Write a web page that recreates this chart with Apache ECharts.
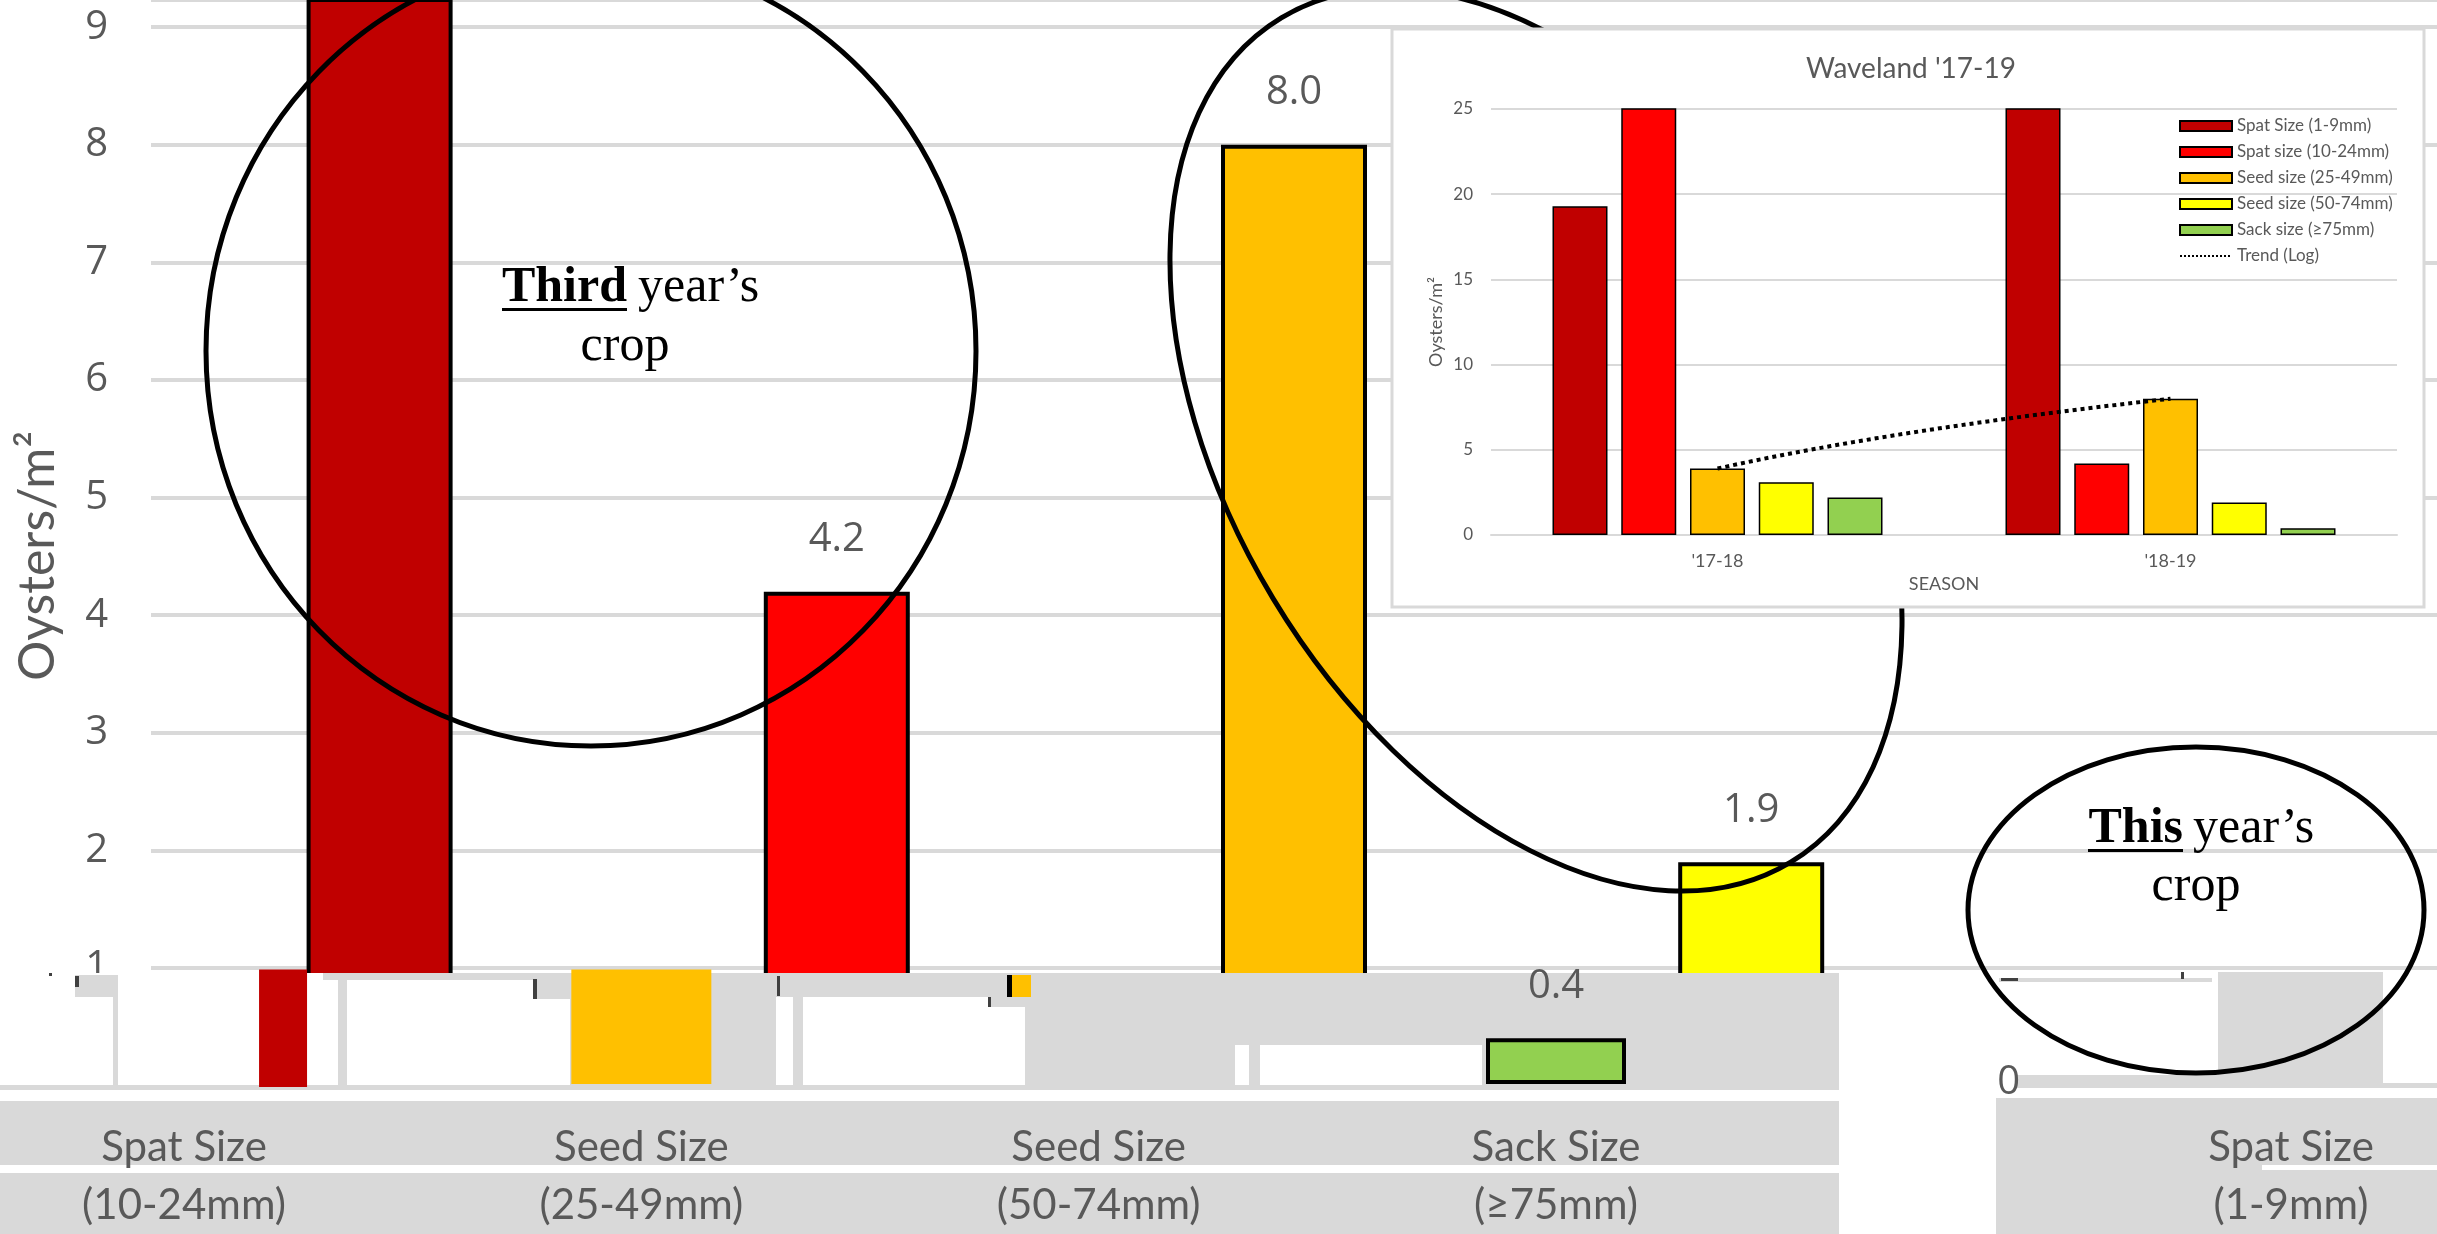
<!DOCTYPE html>
<html>
<head>
<meta charset="utf-8">
<script src="https://cdn.jsdelivr.net/npm/echarts@6/dist/echarts.min.js"></script>
<style>
html,body{margin:0;padding:0;background:#fff;}
#chart{width:2437px;height:1234px;}
</style>
</head>
<body>
<div id="chart"></div>
<script>
// ---------------- data ----------------
const seasons = ["'17-18", "'18-19"];
const sizeNames = ['Spat Size (1-9mm)', 'Spat size (10-24mm)', 'Seed size (25-49mm)', 'Seed size (50-74mm)', 'Sack size (\u226575mm)'];
const mainCats = ['Spat Size\n(1-9mm)', 'Spat Size\n(10-24mm)', 'Seed Size\n(25-49mm)', 'Seed Size\n(50-74mm)', 'Sack Size\n(\u226575mm)'];
const values1718 = [19.3, 30, 3.9, 3.1, 2.2];
const values1819 = [28, 4.2, 8.0, 1.9, 0.4];
const fragCats = ['Spat Size\n(10-24mm)', 'Seed Size\n(25-49mm)', 'Seed Size\n(50-74mm)', 'Sack Size\n(\u226575mm)'];
const fragValues = [null, 8.0, null, 0.4];
const fragPieceValues = [28, null, null, null];
const rightCats = ['Spat Size\n(1-9mm)'];
const trendSeriesIndex = 2; // Seed size (25-49mm) trend (log)

// ---------------- styles ----------------
const sizeColors = ['#C00000', '#FF0000', '#FFC000', '#FFFF00', '#92D050'];
const GRAY_TXT = '#595959';
const GRID_GRAY = '#d9d9d9';

// log trendline of the Seed size (25-49mm) series across the two seasons
const trendY = [values1718[trendSeriesIndex], values1819[trendSeriesIndex]];
const lnA = (trendY[1] - trendY[0]) / Math.log(2);
const trendData = [];
for (let k = 0; k <= 20; k++) {
  const x = 1 + k / 20;
  trendData.push([x, trendY[0] + lnA * Math.log(x)]);
}

const chart = echarts.init(document.getElementById('chart'), null, {renderer: 'canvas'});

function rect(x, y, w, h, fill, z) {
  return {type: 'rect', shape: {x: x, y: y, width: w, height: h}, style: {fill: fill}, z: z || 5, silent: true};
}
const STRIP = '#d9d9d9';
const DARK = '#404040';
const graphics = [
  // collage strip base
  rect(0, 973, 2437, 261, '#ffffff'),
  // left fragment
  rect(338, 973, 1501, 117, STRIP),
  rect(323, 973, 15, 7, STRIP),
  rect(347, 980, 223, 107, '#ffffff'),
  rect(535, 979, 35, 20, STRIP),
  rect(533, 979, 4, 20, DARK),
  rect(776, 997, 17, 90, '#ffffff'),
  rect(803, 997, 185, 90, '#ffffff'),
  rect(988, 1007, 37, 80, '#ffffff'),
  rect(777, 976, 3, 20, DARK),
  rect(988, 997, 3, 10, DARK),
  rect(1007, 975, 24, 22, '#FFC000'),
  rect(1007, 975, 5, 22, '#000000'),
  rect(1235, 1045, 14, 42, '#ffffff'),
  rect(1260, 1045, 222, 42, '#ffffff'),
  rect(0, 1085, 1839, 5, STRIP),
  rect(75, 975, 43, 22, STRIP),
  rect(113, 997, 5, 90, STRIP),
  rect(75, 976, 4, 11, DARK),
  rect(49, 973, 3, 3, DARK),
  rect(0, 1101, 1839, 64, STRIP),
  rect(0, 1173, 1839, 61, STRIP),
  // right fragment
  rect(2218, 972, 165, 116, STRIP),
  rect(1999, 978, 213, 4, STRIP),
  rect(2001, 978, 17, 3, DARK),
  rect(2181, 972, 3, 7, DARK),
  rect(2016, 1075, 367, 13, STRIP),
  rect(2383, 1083, 54, 5, STRIP),
  rect(1996, 1098, 441, 136, STRIP),
  rect(2262, 1165, 175, 5, '#ffffff'),
  // ellipse: third year's crop
  {type: 'ellipse', shape: {cx: 591, cy: 351, rx: 385, ry: 395}, style: {fill: 'none', stroke: '#000', lineWidth: 5}, z: 8, silent: true},
  {type: 'text', style: {text: 'Third', x: 627, y: 288, fill: '#000', font: 'bold 50px "Liberation Serif"', align: 'right', verticalAlign: 'middle', textAlign: 'right', textVerticalAlign: 'middle'}, z: 8},
  {type: 'text', style: {text: 'year\u2019s', x: 638, y: 288, fill: '#000', font: '50px "Liberation Serif"', align: 'left', verticalAlign: 'middle', textAlign: 'left', textVerticalAlign: 'middle'}, z: 8},
  {type: 'text', style: {text: 'crop', x: 625, y: 347, fill: '#000', font: '50px "Liberation Serif"', align: 'center', verticalAlign: 'middle', textAlign: 'center', textVerticalAlign: 'middle'}, z: 8},
  rect(502, 308, 125, 3, '#000000', 8),
  // big tilted ellipse
  {type: 'ellipse', x: 1536, y: 440, rotation: 0.543, shape: {cx: 0, cy: 0, rx: 307, ry: 493}, style: {fill: 'none', stroke: '#000', lineWidth: 5}, z: 8, silent: true},
  // ellipse: this year's crop
  {type: 'ellipse', shape: {cx: 2196, cy: 910, rx: 228, ry: 163}, style: {fill: 'none', stroke: '#000', lineWidth: 5}, z: 8, silent: true},
  {type: 'text', style: {text: 'This', x: 2183, y: 829, fill: '#000', font: 'bold 50px "Liberation Serif"', align: 'right', verticalAlign: 'middle', textAlign: 'right', textVerticalAlign: 'middle'}, z: 8},
  {type: 'text', style: {text: 'year\u2019s', x: 2193, y: 829, fill: '#000', font: '50px "Liberation Serif"', align: 'left', verticalAlign: 'middle', textAlign: 'left', textVerticalAlign: 'middle'}, z: 8},
  {type: 'text', style: {text: 'crop', x: 2196, y: 887, fill: '#000', font: '50px "Liberation Serif"', align: 'center', verticalAlign: 'middle', textAlign: 'center', textVerticalAlign: 'middle'}, z: 8},
  rect(2088, 849, 95, 3, '#000000', 8),
  // inset panel
  {type: 'rect', shape: {x: 1392, y: 29, width: 1032, height: 578}, style: {fill: '#ffffff', stroke: GRID_GRAY, lineWidth: 3}, z: 10, silent: true}
];

const insetSeries = sizeNames.map((name, i) => ({
  name: name,
  type: 'bar',
  xAxisIndex: 3,
  yAxisIndex: 3,
  data: [values1718[i], values1819[i]],
  barWidth: 55,
  barGap: '25%',
  itemStyle: {color: sizeColors[i], borderColor: '#000', borderWidth: 1.5},
  z: 12
}));

// main value axis: 0 sits at y=1085.6 and one unit spans 117.6 px; the top edge of the canvas is the max
const MAIN_MAX = 1085.6 / 117.6;

const option = {
  animation: false,
  backgroundColor: '#ffffff',
  title: {
    text: "Waveland '17-19",
    left: 1906, top: 50, textAlign: 'center',
    textStyle: {fontFamily: 'Lato', fontSize: 28, fontWeight: 'normal', color: GRAY_TXT},
    z: 13
  },
  legend: {
    data: sizeNames.map(n => ({name: n, icon: 'rect'})).concat([
      {name: 'Trend (Log)', itemStyle: {color: 'rgba(0,0,0,0)', borderWidth: 0, opacity: 0}}
    ]),
    orient: 'vertical', left: 2174, top: 111,
    itemWidth: 52, itemHeight: 10, itemGap: 6,
    textStyle: {fontFamily: 'Lato', fontSize: 17, color: GRAY_TXT, lineHeight: 20},
    selectedMode: false,
    z: 13
  },
  grid: [
    {left: 151, right: 0, top: 0, bottom: 148.4},
    {left: 184, width: 1372, top: 969.4, bottom: 147},
    {left: 54.4, width: 1829.2, top: 969.4, bottom: 147},
    {left: 1491, right: 40, top: 109, bottom: 699},
    {left: 2145, right: 0, top: 973.4, bottom: 143}
  ],
  xAxis: [
    {gridIndex: 0, type: 'category', data: mainCats, axisLine: {show: false}, axisTick: {show: false}, axisLabel: {show: false}},
    {gridIndex: 1, type: 'category', data: fragCats, boundaryGap: false, axisLine: {show: false}, axisTick: {show: false},
      axisLabel: {fontFamily: 'Lato', fontSize: 42, color: GRAY_TXT, lineHeight: 58, margin: 34}, z: 6},
    {gridIndex: 2, type: 'category', data: fragCats, show: false},
    {gridIndex: 3, type: 'category', data: seasons, axisLine: {lineStyle: {color: GRID_GRAY, width: 2}}, axisTick: {show: false},
      axisLabel: {fontFamily: 'Lato', fontSize: 18, color: GRAY_TXT, margin: 17},
      name: 'SEASON', nameLocation: 'middle', nameGap: 40,
      nameTextStyle: {fontFamily: 'Lato', fontSize: 18, color: GRAY_TXT}, z: 11},
    {gridIndex: 3, type: 'value', min: 0.5, max: 2.5, show: false},
    {gridIndex: 4, type: 'category', data: rightCats, axisLine: {show: false}, axisTick: {show: false},
      axisLabel: {fontFamily: 'Lato', fontSize: 42, color: GRAY_TXT, lineHeight: 58, margin: 35}, z: 6}
  ],
  yAxis: [
    {gridIndex: 0, type: 'value', min: 0, max: MAIN_MAX, interval: 1,
      axisLine: {show: false}, axisTick: {show: false},
      axisLabel: {showMaxLabel: false, fontFamily: 'Open Sans', fontSize: 40, color: GRAY_TXT, margin: 43},
      splitLine: {lineStyle: {color: GRID_GRAY, width: 4}},
      name: 'Oysters/m\u00b2', nameLocation: 'middle', nameRotate: 90, nameGap: 88,
      nameTextStyle: {fontFamily: 'Lato', fontSize: 50, color: GRAY_TXT, padding: [0, 26, 0, 0]}},
    {gridIndex: 1, type: 'value', min: 0, max: 1, show: false},
    {gridIndex: 2, type: 'value', min: 0, max: 1, show: false},
    {gridIndex: 3, type: 'value', min: 0, max: 25, interval: 5,
      axisLine: {show: false}, axisTick: {show: false},
      axisLabel: {fontFamily: 'Lato', fontSize: 17, color: GRAY_TXT, margin: 18},
      splitLine: {lineStyle: {color: GRID_GRAY, width: 2}},
      name: 'Oysters/m\u00b2', nameLocation: 'middle', nameRotate: 90, nameGap: 46,
      nameTextStyle: {fontFamily: 'Lato', fontSize: 18, color: GRAY_TXT}, z: 11},
    {gridIndex: 4, type: 'value', min: 0, max: 1, interval: 1,
      axisLine: {show: false}, axisTick: {show: false}, splitLine: {show: false},
      axisLabel: {showMaxLabel: false, fontFamily: 'Open Sans', fontSize: 40, color: GRAY_TXT, margin: 125}, z: 6}
  ],
  series: [
    {
      type: 'bar', xAxisIndex: 0, yAxisIndex: 0, barWidth: 146,
      data: values1819.map((v, i) => ({value: v, itemStyle: {color: sizeColors[i]}, label: {show: v >= 1}})),
      itemStyle: {borderColor: '#000', borderWidth: 4},
      label: {show: true, position: 'top', distance: 32, fontFamily: 'Open Sans', fontSize: 40, color: GRAY_TXT,
        formatter: p => p.value.toFixed(1)},
      z: 2
    },
    {
      type: 'bar', xAxisIndex: 1, yAxisIndex: 1, barWidth: 140,
      data: fragValues.map((v, i) => v == null ? null : ({
        value: v,
        itemStyle: {color: sizeColors[i + 1], borderWidth: v <= 1 ? 4 : 0},
        label: {show: v <= 1}
      })),
      itemStyle: {borderColor: '#000', borderWidth: 4},
      label: {show: true, position: 'top', distance: 32, fontFamily: 'Open Sans', fontSize: 40, color: GRAY_TXT,
        formatter: p => p.value.toFixed(1)},
      z: 6
    },
    {
      type: 'bar', xAxisIndex: 2, yAxisIndex: 2, barWidth: 48,
      data: fragPieceValues,
      itemStyle: {color: sizeColors[0], borderWidth: 0},
      z: 6
    }
  ].concat(insetSeries).concat([
    {
      name: 'Trend (Log)', type: 'line', xAxisIndex: 4, yAxisIndex: 3,
      data: trendData, symbol: 'none', smooth: false,
      lineStyle: {color: '#000', width: 4, type: 'dotted'},
      itemStyle: {color: '#000'},
      z: 13
    }
  ]),
  graphic: graphics
};
chart.setOption(option);
</script>
</body>
</html>
